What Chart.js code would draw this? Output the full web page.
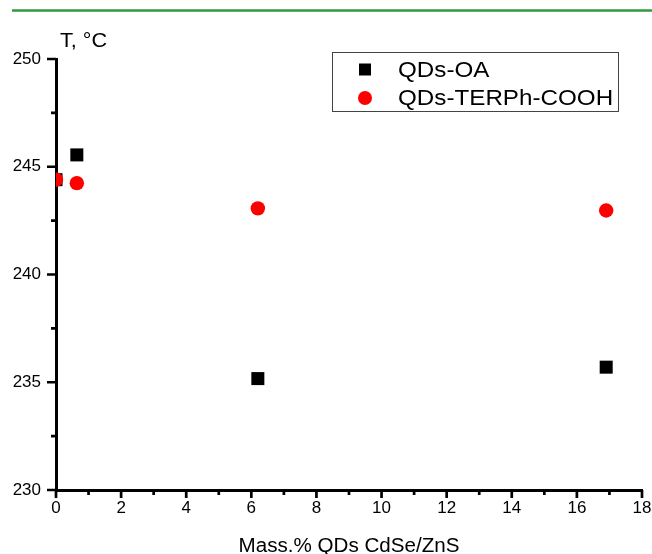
<!DOCTYPE html>
<html>
<head>
<meta charset="utf-8">
<script src="https://cdn.jsdelivr.net/npm/chart.js@4.4.1/dist/chart.umd.min.js"></script>
<style>
  body { margin: 0; background: #fff; }
  #wrap { width: 652px; height: 554px; }
</style>
</head>
<body>
<div id="wrap"><canvas id="tempChart"></canvas></div>
<script>
let seriesNames = ["QDs-OA", "QDs-TERPh-COOH"];
let massOA = [0, 0.64, 6.2, 16.9];
let tempOA = [244.4, 245.55, 235.17, 235.7];
let massTER = [0, 0.64, 6.2, 16.9];
let tempTER = [244.4, 244.24, 243.07, 242.97];
let xTicks = [0, 2, 4, 6, 8, 10, 12, 14, 16, 18];
let yTicks = [230, 235, 240, 245, 250];
let xTitle = "Mass.% QDs CdSe/ZnS";
let yTitle = "T, \u00B0C";

let font = "'Liberation Sans', Arial, sans-serif";

function toPoints(xs, ys) {
    return xs.map((x, i) => ({ x: x, y: ys[i] }));
}

function stretchedText(ctx, text, x, y, sx) {
    ctx.save();
    ctx.translate(x, y);
    ctx.scale(sx, 1);
    ctx.fillText(text, 0, 0);
    ctx.restore();
}

// green rule, titles, tick marks and boxed legend
let extras = {
    id: "extras",
    afterDraw(chart) {
        let ctx = chart.ctx;
        let area = chart.chartArea;
        let xs = chart.scales.x;
        let ys = chart.scales.y;
        ctx.save();

        ctx.strokeStyle = "#2e9a3e";
        ctx.lineWidth = 2.5;
        ctx.beginPath();
        ctx.moveTo(12, 10.5);
        ctx.lineTo(652, 10.5);
        ctx.stroke();

        ctx.fillStyle = "#000";
        ctx.textBaseline = "middle";
        ctx.textAlign = "left";
        ctx.font = "21px " + font;
        stretchedText(ctx, yTitle, 60, 41, 1.03);

        ctx.textAlign = "center";
        ctx.font = "20px " + font;
        stretchedText(ctx, xTitle, 349, 546, 1.03);

        // tick marks, outward
        ctx.strokeStyle = "#000";
        ctx.lineWidth = 2.7;
        ctx.beginPath();
        xTicks.forEach(v => {
            let px = xs.getPixelForValue(v);
            ctx.moveTo(px, area.bottom);
            ctx.lineTo(px, area.bottom + 8);
        });
        yTicks.forEach(v => {
            let py = ys.getPixelForValue(v);
            ctx.moveTo(area.left, py);
            ctx.lineTo(area.left - 9, py);
        });
        for (let v = 1; v < 18; v += 2) {
            let px = xs.getPixelForValue(v);
            ctx.moveTo(px, area.bottom);
            ctx.lineTo(px, area.bottom + 5);
        }
        for (let v = 232.5; v < 250; v += 5) {
            let py = ys.getPixelForValue(v);
            ctx.moveTo(area.left, py);
            ctx.lineTo(area.left - 5, py);
        }
        ctx.stroke();

        // legend box
        ctx.strokeStyle = "#444";
        ctx.lineWidth = 1;
        ctx.strokeRect(332.5, 52.5, 286, 59);
        ctx.textAlign = "left";
        ctx.font = "22px " + font;
        chart.data.datasets.forEach((ds, i) => {
            let cy = 69.5 + i * 28.5;
            ctx.fillStyle = ds.backgroundColor;
            if (ds.pointStyle === "rect") {
                ctx.fillRect(359, cy - 6, 12, 12);
            } else {
                ctx.beginPath();
                ctx.arc(365, cy, 7, 0, Math.PI * 2);
                ctx.fill();
            }
            ctx.fillStyle = "#000";
            stretchedText(ctx, ds.label, 398, cy + 1, 1.1);
        });
        ctx.restore();
    }
};

let chartData = {
    datasets: [{
        label: seriesNames[0],
        data: toPoints(massOA, tempOA),
        backgroundColor: "#000000",
        borderColor: "#000000",
        pointStyle: "rect",
        pointRadius: 9.2,
        borderWidth: 0,
        order: 1
    }, {
        label: seriesNames[1],
        data: toPoints(massTER, tempTER),
        backgroundColor: "#ff0000",
        borderColor: "#ff0000",
        pointStyle: "circle",
        pointRadius: 7.2,
        borderWidth: 0,
        order: 0
    }]
};

let chartOptions = {
    responsive: true,
    maintainAspectRatio: false,
    animation: false,
    layout: { padding: { top: 59, right: 10, left: 0, bottom: 0 } },
    plugins: {
        legend: { display: false },
        tooltip: { enabled: false }
    },
    scales: {
        x: {
            type: "linear",
            min: 0,
            max: 18,
            afterBuildTicks: (axis) => { axis.ticks = xTicks.map(v => ({ value: v })); },
            afterFit: (axis) => {
                axis.height = 64;
                axis.paddingLeft = 0;
                axis.paddingRight = 0;
            },
            border: { display: true, color: "#000", width: 3 },
            grid: { display: false },
            ticks: { color: "#000", padding: 0, font: { family: font, size: 17 } }
        },
        y: {
            type: "linear",
            min: 230,
            max: 250,
            afterBuildTicks: (axis) => { axis.ticks = yTicks.map(v => ({ value: v })); },
            afterFit: (axis) => {
                axis.width = 56;
                axis.paddingTop = 0;
                axis.paddingBottom = 0;
            },
            border: { display: true, color: "#000", width: 3 },
            grid: { display: false },
            ticks: { color: "#000", padding: 7, font: { family: font, size: 17 } }
        }
    }
};

let tempChart = new Chart(document.getElementById("tempChart"), {
    type: "scatter",
    data: chartData,
    options: chartOptions,
    plugins: [extras]
});
</script>
</body>
</html>
